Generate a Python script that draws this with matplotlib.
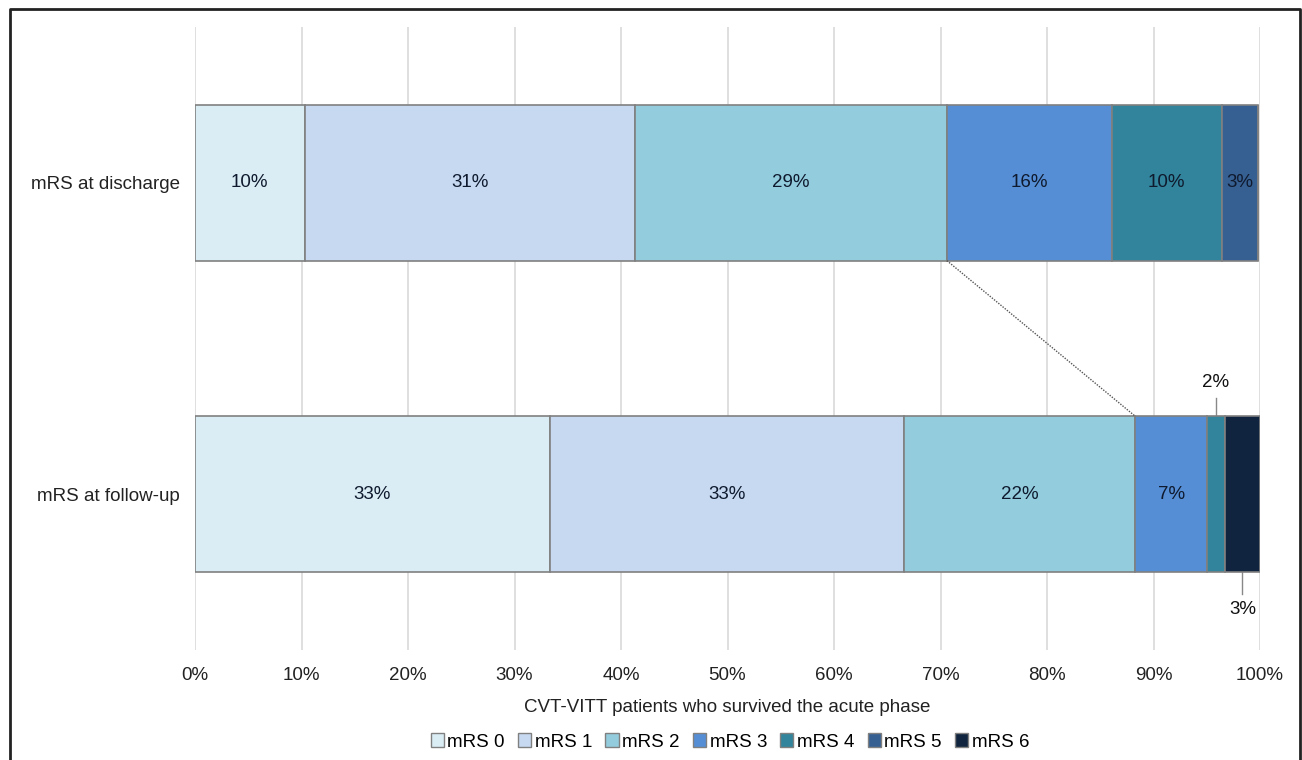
import matplotlib
matplotlib.use('Agg')
import matplotlib.pyplot as plt
from matplotlib.patches import Patch
from matplotlib.lines import Line2D
import numpy as np

rows = ['mRS at discharge', 'mRS at follow-up']
categories = ['mRS 0', 'mRS 1', 'mRS 2', 'mRS 3', 'mRS 4', 'mRS 5', 'mRS 6']
discharge = [10.3, 31.0, 29.3, 15.5, 10.3, 3.4, 0.0]
follow_up = [33.3, 33.3, 21.7, 6.7, 1.7, 0.0, 3.3]
discharge_labels = ['10%', '31%', '29%', '16%', '10%', '3%', '']
follow_up_labels = ['33%', '33%', '22%', '7%', '', '', '']
colors = ['#DAEDF4', '#C6D9F0', '#93CDDD', '#558ED5', '#31849B', '#376092', '#10243F']

FS = 13.5
plt.rcParams['font.family'] = ['Liberation Sans', 'DejaVu Sans']
fig = plt.figure(figsize=(13.02, 7.6), dpi=100)
ax = fig.add_axes([195 / 1302, 1 - 650 / 760, 1065 / 1302, 623 / 760])

data = np.array([discharge, follow_up])
ypos = [0, 1]
left = np.zeros(2)
for i, cat in enumerate(categories):
    ax.barh(ypos, data[:, i], left=left, height=0.5, color=colors[i],
            edgecolor='#808080', linewidth=1.2, label=cat, zorder=3)
    left = left + data[:, i]

# labels inside segments
cum = np.cumsum(data, axis=1) - data / 2
for j, labels in enumerate([discharge_labels, follow_up_labels]):
    for i, s in enumerate(labels):
        if s:
            ax.text(cum[j, i], ypos[j], s, ha='center', va='center', fontsize=FS,
                    color='#0F1A2E', zorder=5)

# small segments with leader lines
ax.plot([cum[1, 4], cum[1, 4]], [0.75, 0.69], color='#888888', lw=1, zorder=2)
ax.text(cum[1, 4], 0.64, '2%', ha='center', va='center', fontsize=FS, color='#111111')
ax.plot([cum[1, 6], cum[1, 6]], [1.25, 1.32], color='#888888', lw=1, zorder=2)
ax.text(cum[1, 6], 1.37, '3%', ha='center', va='center', fontsize=FS, color='#111111')

# series line between mRS 2 ends
end2 = np.cumsum(data, axis=1)[:, 2]
ax.plot(end2, [0.25, 0.75], color='#555555', lw=1, linestyle=(0, (1, 1)), zorder=4)

ax.set_xlim(0, 100)
ax.set_ylim(1.5, -0.5)
ax.set_xticks(np.arange(0, 101, 10))
ax.set_xticklabels([f'{v}%' for v in range(0, 101, 10)], fontsize=FS, color='#222222')
ax.set_yticks(ypos)
ax.set_yticklabels(rows, fontsize=FS, color='#222222')
ax.tick_params(axis='x', length=0, pad=12)
ax.tick_params(axis='y', length=0, pad=11)
ax.grid(axis='x', color='#D9D9D9', linewidth=1.2, zorder=0)
ax.set_axisbelow(True)
for sp in ax.spines.values():
    sp.set_visible(False)
ax.set_xlabel('CVT-VITT patients who survived the acute phase', fontsize=FS,
              color='#222222', labelpad=11)

handles = [Patch(facecolor=c, edgecolor='#808080', label=l) for c, l in zip(colors, categories)]
fig.legend(handles=handles, loc='center', bbox_to_anchor=(730 / 1302, 1 - 742 / 760),
           ncol=7, frameon=False, fontsize=FS, handlelength=0.7, handleheight=0.7,
           handletextpad=0.2, columnspacing=0.7, borderpad=0)

# outer frame (no bottom edge)
fig.add_artist(Line2D([10 / 1302, 10 / 1302, 1300 / 1302, 1300 / 1302],
                      [0, 1 - 9 / 760, 1 - 9 / 760, 0], color='#222222', lw=2,
                      transform=fig.transFigure))

fig.savefig('out.png', dpi=100)
